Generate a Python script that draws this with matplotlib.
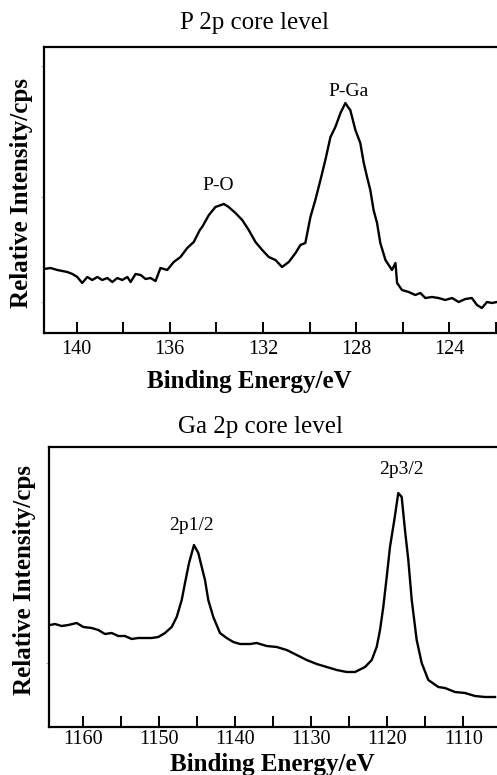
import matplotlib
matplotlib.use("Agg")
import matplotlib.pyplot as plt
from matplotlib.ticker import MultipleLocator

plt.rcParams['font.family'] = ['Liberation Serif', 'DejaVu Serif']

# P 2p spectrum (binding energy in eV, relative intensity)
p_energy = [141.40, 141.12, 140.83, 140.61, 140.40, 140.18, 139.97, 139.76, 139.54, 139.33,
            139.11, 138.90, 138.68, 138.47, 138.25, 138.04, 137.82, 137.68, 137.47, 137.25,
            137.04, 136.83, 136.61, 136.40, 136.11, 135.83, 135.54, 135.25, 134.97, 134.71,
            134.61, 134.32, 134.04, 133.68, 133.47, 133.18, 132.89, 132.61, 132.32, 132.03,
            131.75, 131.46, 131.18, 130.89, 130.60, 130.39, 130.18, 129.96, 129.75, 129.53,
            129.32, 129.10, 128.89, 128.67, 128.46, 128.32, 128.25, 128.03, 127.82, 127.67,
            127.53, 127.39, 127.25, 127.10, 126.96, 126.74, 126.46, 126.31, 126.24, 126.03,
            125.74, 125.46, 125.24, 125.03, 124.74, 124.46, 124.17, 123.88, 123.60, 123.31,
            123.03, 122.81, 122.60, 122.38, 122.17, 121.95]
p_intensity = [64, 65, 63, 62, 61, 59, 56, 50, 56, 53,
               56, 53, 55, 51, 55, 53, 56, 51, 59, 58,
               54, 55, 52, 65, 63, 71, 76, 85, 91, 103,
               106, 118, 126, 129, 126, 120, 113, 103, 91, 83,
               76, 73, 66, 71, 80, 88, 90, 116, 133, 153,
               173, 196, 206, 220, 230, 225, 223, 203, 190, 170,
               156, 143, 123, 110, 90, 73, 63, 70, 50, 43,
               41, 38, 40, 35, 36, 35, 33, 35, 31, 34,
               35, 28, 25, 31, 30, 31]

# Ga 2p spectrum
ga_energy = [1164.34, 1163.68, 1162.80, 1161.93, 1160.83, 1159.96, 1158.86, 1157.99, 1157.11, 1156.23,
             1155.36, 1154.48, 1153.60, 1152.73, 1151.85, 1150.97, 1150.10, 1149.22, 1148.34, 1147.68,
             1147.02, 1146.59, 1146.06, 1145.41, 1144.84, 1144.39, 1143.96, 1143.53, 1142.87, 1141.99,
             1141.11, 1140.24, 1139.36, 1138.04, 1137.16, 1135.85, 1134.53, 1133.22, 1131.90, 1130.59,
             1129.27, 1127.96, 1126.64, 1125.33, 1124.24, 1122.92, 1122.04, 1121.39, 1120.95, 1120.52,
             1120.07, 1119.64, 1119.07, 1118.55, 1118.10, 1117.67, 1117.23, 1116.78, 1116.13, 1115.47,
             1114.60, 1113.29, 1112.41, 1111.09, 1109.78, 1108.46, 1107.15, 1105.83]
ga_intensity = [102, 103, 101, 102, 104, 100, 99, 97, 93, 94,
                91, 91, 88, 89, 89, 89, 90, 94, 100, 110,
                127, 144, 164, 182, 174, 160, 147, 127, 110, 94,
                89, 85, 83, 83, 84, 81, 80, 77, 72, 67,
                63, 60, 57, 55, 55, 60, 67, 80, 97, 120,
                150, 180, 207, 234, 230, 197, 167, 127, 87, 64,
                47, 40, 39, 35, 34, 31, 30, 30]

p_peaks = ['P-O', 'P-Ga']
p_peak_pos = [(133.91, 147), (128.33, 242)]
ga_peaks = ['2p1/2', '2p3/2']
ga_peak_pos = [(1145.80, 201), (1118.19, 258)]

W, H = 497, 775
fig = plt.figure(figsize=(W / 100, H / 100), dpi=100)

ax1 = fig.add_axes([44 / W, 1 - 333 / H, (W - 44) / W, 286 / H])
ax2 = fig.add_axes([49 / W, 1 - 727 / H, (W - 49) / W, 280 / H])

panels = [
    (ax1, p_energy, p_intensity, (141.40, 121.95), 286, 4, 2, p_peaks, p_peak_pos, [31, 136, 267], 5),
    (ax2, ga_energy, ga_intensity, (1164.47, 1105.57), 280, 10, 5, ga_peaks, ga_peak_pos, [64], 2),
]

for ax, x, y, xlim, ytop, major, minor, names, pos, yt, pad in panels:
    ax.plot(x, y, color='black', linewidth=1.7)
    ax.set_xlim(*xlim)
    ax.set_ylim(0, ytop)
    ax.xaxis.set_major_locator(MultipleLocator(major))
    ax.xaxis.set_minor_locator(MultipleLocator(minor))
    ax.tick_params(axis='x', which='both', direction='in', length=8, width=1.4,
                   labelsize=14.5, pad=pad)
    ax.set_yticks(yt)
    ax.set_yticklabels([])
    ax.tick_params(axis='y', direction='out', length=2, width=0.5, color='#888888')
    for s in ['left', 'bottom', 'top']:
        ax.spines[s].set_linewidth(1.6)
    ax.spines['right'].set_visible(False)
    for name, (px, py) in zip(names, pos):
        ax.text(px, py, name, ha='center', va='center', fontsize=14)

# titles and axis labels placed in figure pixels
fig.text(254 / W, 1 - 23 / H, 'P 2p core level', ha='center', va='center', fontsize=18)
fig.text(260 / W, 1 - 427 / H, 'Ga 2p core level', ha='center', va='center', fontsize=18)
fig.text(249 / W, 1 - 381 / H, 'Binding Energy/eV', ha='center', va='center',
         fontsize=18, fontweight='bold')
fig.text(272 / W, 1 - 765 / H, 'Binding Energy/eV', ha='center', va='center',
         fontsize=18, fontweight='bold')
fig.text(22 / W, 1 - 193 / H, 'Relative Intensity/cps', ha='center', va='center',
         rotation=90, fontsize=18, fontweight='bold')
fig.text(25 / W, 1 - 580 / H, 'Relative Intensity/cps', ha='center', va='center',
         rotation=90, fontsize=18, fontweight='bold')

fig.savefig('out.png', dpi=100)
